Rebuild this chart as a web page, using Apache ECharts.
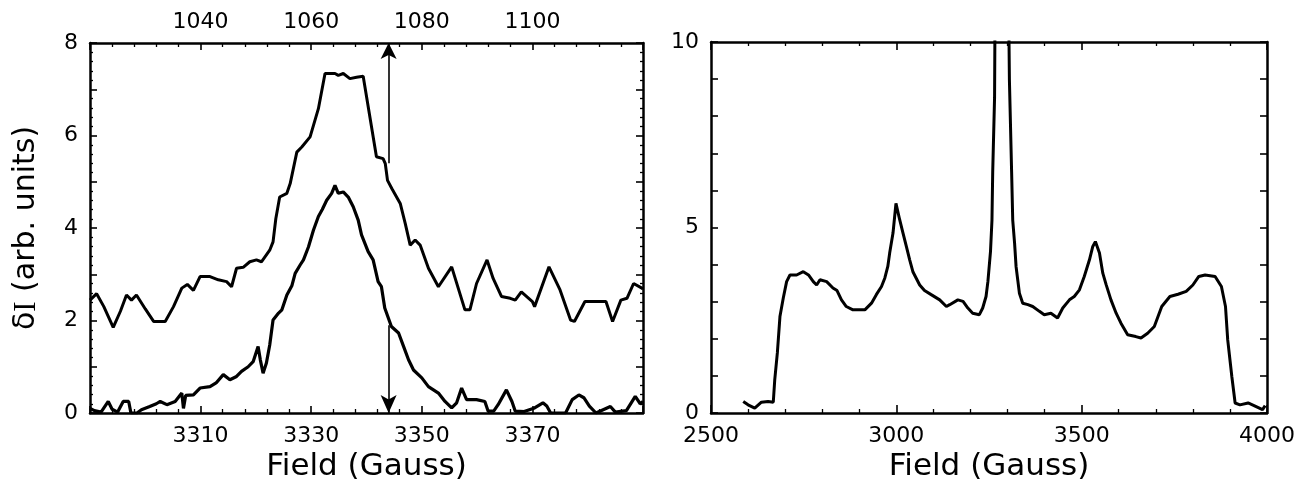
<!DOCTYPE html>
<html>
<head>
<meta charset="utf-8">
<script src="https://cdn.jsdelivr.net/npm/echarts@6/dist/echarts.min.js"></script>
<style>
html,body{margin:0;padding:0;background:#fff;}
#chart{width:1298px;height:491px;}
</style>
</head>
<body>
<div id="chart"></div>
<script>
// ---- data ----
// left panel, upper trace: [field (G), signal]
const leftUpper = [
[3290.0,2.44],[3291.2,2.58],[3292.5,2.3],[3294.2,1.85],[3295.5,2.2],[3296.6,2.55],[3297.5,2.44],[3298.4,2.55],
[3300.0,2.25],[3301.5,1.98],[3303.6,1.98],[3305.1,2.30],[3306.6,2.70],[3307.6,2.78],[3308.7,2.65],[3309.9,2.95],
[3311.7,2.95],[3313.2,2.88],[3314.7,2.84],[3315.6,2.73],[3316.5,3.13],[3317.7,3.15],[3318.9,3.27],[3320.1,3.31],
[3321.0,3.27],[3322.5,3.52],[3323.1,3.7],[3323.6,4.2],[3324.3,4.67],[3325.6,4.75],[3326.2,4.96],[3327.4,5.64],
[3328.3,5.75],[3329.8,5.97],[3331.3,6.58],[3332.5,7.34],[3334.3,7.34],[3334.9,7.30],[3335.8,7.34],[3337.0,7.23],
[3338.2,7.26],[3339.4,7.28],[3341.8,5.54],[3343.0,5.50],[3343.4,5.39],[3343.8,5.03],[3344.6,4.85],[3346.1,4.53],
[3347.0,4.10],[3347.9,3.63],[3348.8,3.74],[3349.7,3.63],[3351.2,3.13],[3353.0,2.73],[3355.4,3.16],[3357.8,2.23],
[3358.7,2.23],[3359.9,2.80],[3361.8,3.31],[3362.9,2.91],[3364.4,2.52],[3366.0,2.48],[3366.9,2.44],[3368.0,2.62],
[3370.0,2.41],[3370.4,2.30],[3373.0,3.16],[3375.0,2.66],[3376.9,2.01],[3377.6,1.98],[3379.5,2.41],[3383.3,2.41],
[3384.5,1.98],[3386.0,2.44],[3387.1,2.48],[3388.3,2.80],[3389.8,2.70],[3390.0,2.68]
];
// left panel, lower trace: [field (G), signal]
const leftLower = [
[3290.0,0.10],[3290.8,0.05],[3292.0,0.02],[3293.3,0.25],[3294.0,0.08],[3295.0,0.02],[3296.0,0.25],[3297.0,0.25],
[3297.4,0.0],[3298.5,0.0],[3299.3,0.07],[3300.8,0.14],[3302.0,0.20],[3302.7,0.25],[3303.9,0.18],[3305.4,0.25],
[3306.6,0.43],[3306.9,0.10],[3307.3,0.38],[3308.7,0.39],[3309.9,0.54],[3311.7,0.57],[3312.8,0.65],[3314.1,0.83],
[3315.3,0.72],[3316.5,0.79],[3317.4,0.90],[3318.6,1.00],[3319.5,1.11],[3320.4,1.44],[3320.8,1.15],[3321.3,0.86],
[3321.9,1.08],[3322.5,1.47],[3323.1,2.01],[3324.1,2.16],[3324.7,2.23],[3325.6,2.55],[3326.5,2.75],[3327.1,3.02],
[3328.0,3.20],[3328.6,3.31],[3329.5,3.59],[3330.4,3.95],[3331.3,4.25],[3332.0,4.40],[3332.8,4.60],[3333.7,4.75],
[3334.3,4.92],[3334.9,4.75],[3335.8,4.78],[3336.7,4.67],[3337.6,4.46],[3338.5,4.17],[3339.1,3.85],[3340.3,3.49],
[3341.2,3.31],[3342.1,2.84],[3342.7,2.73],[3343.3,2.27],[3344.5,1.87],[3345.8,1.73],[3346.7,1.44],[3347.6,1.15],
[3348.5,0.93],[3350.0,0.76],[3351.2,0.57],[3353.0,0.43],[3354.2,0.25],[3355.4,0.11],[3356.3,0.22],[3357.2,0.54],
[3358.1,0.29],[3359.9,0.29],[3361.4,0.25],[3362.0,0.04],[3363.0,0.04],[3363.8,0.18],[3365.3,0.50],[3366.3,0.25],
[3366.9,0.04],[3368.5,0.03],[3370.4,0.11],[3371.9,0.22],[3372.6,0.15],[3373.3,0.0],[3376.0,0.0],[3377.2,0.29],
[3378.4,0.39],[3379.3,0.33],[3380.3,0.15],[3381.5,0.0],[3384.1,0.14],[3385.0,0.02],[3387.0,0.05],[3388.6,0.36],
[3389.5,0.20],[3390.0,0.25]
];
// right panel spectrum: [field (G), signal]
const rightSpectrum = [
[2587,0.31],[2600,0.22],[2618,0.13],[2636,0.29],[2654,0.31],[2668,0.29],[2672,0.9],[2679,1.62],[2686,2.6],
[2695,3.1],[2704,3.54],[2713,3.72],[2731,3.72],[2749,3.81],[2763,3.72],[2776,3.54],[2785,3.45],[2794,3.59],
[2812,3.54],[2829,3.37],[2840,3.3],[2852,3.05],[2865,2.87],[2883,2.78],[2915,2.78],[2933,2.96],[2946,3.19],
[2960,3.41],[2969,3.64],[2977,3.95],[2982,4.31],[2991,4.85],[2999,5.65],[3009,5.21],[3018,4.85],[3027,4.49],
[3036,4.13],[3045,3.80],[3063,3.45],[3076,3.30],[3094,3.19],[3117,3.05],[3135,2.87],[3144,2.92],[3166,3.05],
[3180,3.01],[3193,2.83],[3206,2.69],[3224,2.65],[3233,2.83],[3242,3.14],[3247,3.54],[3254,4.35],[3258,5.2],
[3260,6.5],[3265,8.5],[3268,14],[3300,14],[3305,9],[3311,6.5],[3314,5.2],[3319,4.58],[3323,3.95],[3332,3.23],
[3341,2.96],[3355,2.92],[3368,2.87],[3386,2.74],[3399,2.65],[3417,2.69],[3435,2.56],[3449,2.83],[3467,3.05],
[3480,3.14],[3494,3.32],[3507,3.68],[3521,4.13],[3530,4.49],[3537,4.62],[3548,4.31],[3557,3.77],[3566,3.46],
[3579,3.05],[3593,2.69],[3606,2.42],[3624,2.11],[3646,2.06],[3660,2.02],[3678,2.15],[3696,2.33],[3716,2.87],
[3738,3.14],[3760,3.2],[3782,3.28],[3800,3.45],[3816,3.68],[3833,3.72],[3860,3.68],[3877,3.41],[3888,2.87],
[3894,1.97],[3905,0.99],[3914,0.27],[3927,0.22],[3949,0.27],[3965,0.2],[3988,0.09],[3995,0.2]
];
// arrow marker in the left panel
const arrowField = 3344;
const arrowUpper = [5.4, 8];
const arrowLower = [1.9, 0];
// tick labels
const leftYLabels = [0, 2, 4, 6, 8];
const rightYLabels = [0, 5, 10];
const leftXRange = [3290, 3390];
const leftTopRange = [1020, 1120];
const rightXRange = [2500, 4000];

// ---- chart ----
const FONT = 'DejaVu Sans';
const black = '#000';
const plain = v => String(v);
const labelStyle = {color: black, fontFamily: FONT, fontSize: 22, formatter: plain};
function frameAxis(extra) {
  return Object.assign({
    axisLine: {show: true, onZero: false, lineStyle: {color: black, width: 2.5}},
    axisTick: {show: true, inside: true, length: 7, lineStyle: {color: black, width: 1.6}},
    minorTick: {show: false},
    splitLine: {show: false},
    minorSplitLine: {show: false},
    axisLabel: Object.assign({}, labelStyle)
  }, extra);
}
const chart = echarts.init(document.getElementById('chart'), null, {renderer: 'canvas'});
const option = {
  animation: false,
  backgroundColor: '#fff',
  grid: [
    {left: 90, top: 43, width: 553, height: 370},
    {left: 711, top: 42, width: 558, height: 371}
  ],
  xAxis: [
    frameAxis({type: 'value', gridIndex: 0, position: 'bottom', min: leftXRange[0], max: leftXRange[1], interval: 20,
      minorTick: {show: true, splitNumber: 5, length: 4, lineStyle: {color: black, width: 1.3}},
      axisLabel: Object.assign({}, labelStyle, {margin: 12, showMinLabel: false, showMaxLabel: false}),
      name: 'Field (Gauss)', nameLocation: 'middle', nameGap: 38,
      nameTextStyle: {color: black, fontFamily: FONT, fontSize: 31}}),
    frameAxis({type: 'value', gridIndex: 0, position: 'top', min: leftTopRange[0], max: leftTopRange[1], interval: 20,
      minorTick: {show: true, splitNumber: 5, length: 4, lineStyle: {color: black, width: 1.3}},
      axisLabel: Object.assign({}, labelStyle, {margin: 10, showMinLabel: false, showMaxLabel: false})}),
    frameAxis({type: 'value', gridIndex: 1, position: 'bottom', min: rightXRange[0], max: rightXRange[1], interval: 500,
      axisTick: {show: true, inside: true, length: 8, lineStyle: {color: black, width: 1.6}},
      minorTick: {show: true, splitNumber: 5, length: 4, lineStyle: {color: black, width: 1.3}},
      axisLabel: Object.assign({}, labelStyle, {margin: 12}),
      name: 'Field (Gauss)', nameLocation: 'middle', nameGap: 38,
      nameTextStyle: {color: black, fontFamily: FONT, fontSize: 31}}),
    frameAxis({type: 'value', gridIndex: 1, position: 'top', min: rightXRange[0], max: rightXRange[1], interval: 500,
      axisTick: {show: true, inside: true, length: 8, lineStyle: {color: black, width: 1.6}},
      minorTick: {show: true, splitNumber: 5, length: 4, lineStyle: {color: black, width: 1.3}},
      axisLabel: {show: false}})
  ],
  yAxis: [
    frameAxis({type: 'value', gridIndex: 0, position: 'left', min: 0, max: 8, interval: 1,
      minorTick: {show: true, splitNumber: 5, length: 3, lineStyle: {color: black, width: 1.3}},
      axisLabel: Object.assign({}, labelStyle, {margin: 12,
        formatter: v => leftYLabels.indexOf(v) >= 0 ? String(v) : ''}),
      name: 'δ{i|I} (arb. units)', nameLocation: 'middle', nameGap: 48,
      nameTextStyle: {color: black, fontFamily: FONT, fontSize: 30,
        rich: {i: {color: black, fontFamily: 'Liberation Serif', fontSize: 31}}}}),
    frameAxis({type: 'value', gridIndex: 0, position: 'right', min: 0, max: 8, interval: 1,
      minorTick: {show: true, splitNumber: 5, length: 3, lineStyle: {color: black, width: 1.3}},
      axisLabel: {show: false}}),
    frameAxis({type: 'value', gridIndex: 1, position: 'left', min: 0, max: 10, interval: 1,
      axisLabel: Object.assign({}, labelStyle, {margin: 12,
        formatter: v => rightYLabels.indexOf(v) >= 0 ? String(v) : ''})}),
    frameAxis({type: 'value', gridIndex: 1, position: 'right', min: 0, max: 10, interval: 1,
      axisLabel: {show: false}})
  ],
  series: [
    {type: 'line', xAxisIndex: 0, yAxisIndex: 0, data: leftUpper, showSymbol: false, symbol: 'none',
      lineStyle: {color: black, width: 3}, clip: true, silent: true,
      markLine: {silent: true, symbol: ['none', 'arrow'], symbolSize: [12, 16], label: {show: false},
        lineStyle: {color: black, width: 1.6, type: 'solid'}, emphasis: {disabled: true},
        data: [[{coord: [arrowField, arrowUpper[0]]}, {coord: [arrowField, arrowUpper[1]]}]]}},
    {type: 'line', xAxisIndex: 0, yAxisIndex: 0, data: leftLower, showSymbol: false, symbol: 'none',
      lineStyle: {color: black, width: 3.2}, clip: true, silent: true,
      markLine: {silent: true, symbol: ['none', 'arrow'], symbolSize: [12, 18], label: {show: false},
        lineStyle: {color: black, width: 1.6, type: 'solid'}, emphasis: {disabled: true},
        data: [[{coord: [arrowField, arrowLower[0]]}, {coord: [arrowField, arrowLower[1]]}]]}},
    {type: 'line', xAxisIndex: 2, yAxisIndex: 2, data: rightSpectrum, showSymbol: false, symbol: 'none',
      lineStyle: {color: black, width: 3}, clip: true, silent: true}
  ]
};
chart.setOption(option);
</script>
</body>
</html>
